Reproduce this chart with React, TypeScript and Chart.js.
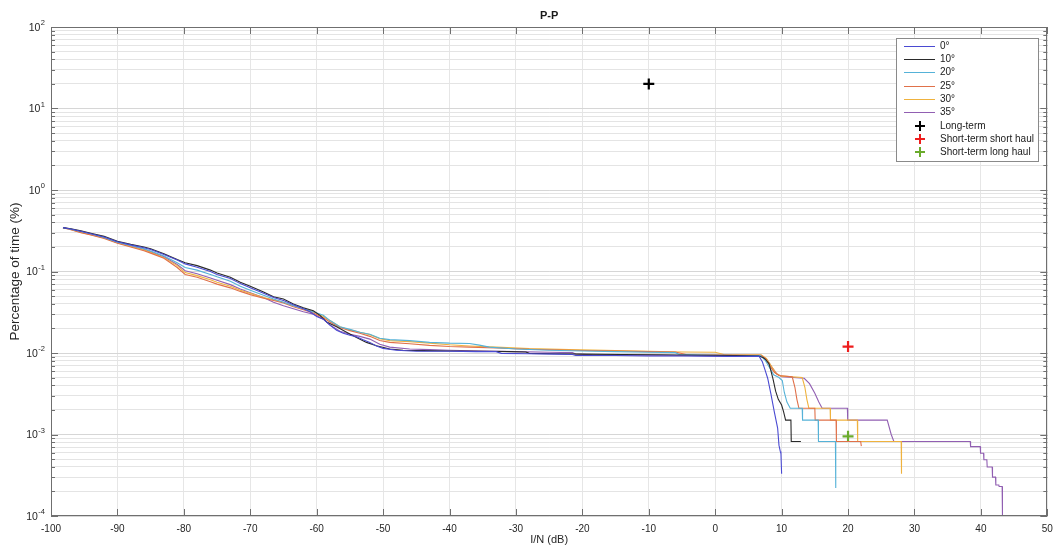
import React, { useEffect, useRef } from 'react';
import { Chart, registerables } from 'chart.js';

Chart.register(...registerables);

const FONT = '"Liberation Sans", Arial, Helvetica, sans-serif';

const chartTitle = 'P-P';
const xAxisTitle = 'I/N (dB)';
const yAxisTitle = 'Percentage of time (%)';

const seriesLabels = ['0°', '10°', '20°', '25°', '30°', '35°'];
const seriesColors = ['#4a4ad2', '#2a2a2a', '#55b2d8', '#e0714a', '#efb23e', '#915fb2'];

// [I/N (dB), percentage of time (%)]
const series0: [number, number][] = [
  [-98.2, 0.345], [-97, 0.333], [-95.5, 0.312], [-94, 0.29], [-92, 0.265], [-90, 0.232], [-88, 0.212],
  [-86, 0.196], [-85, 0.186], [-83, 0.162], [-81, 0.138], [-79.8, 0.124], [-78, 0.113], [-76, 0.1],
  [-75, 0.092], [-73, 0.082], [-71.5, 0.071], [-70, 0.063], [-68, 0.054], [-66.5, 0.048], [-65, 0.044],
  [-63.5, 0.039], [-62, 0.035], [-61, 0.032], [-60, 0.028], [-59, 0.026], [-58, 0.022], [-57, 0.019],
  [-56, 0.0175], [-55, 0.0165], [-54, 0.0158], [-53, 0.0145], [-52, 0.0135], [-51, 0.0122], [-50, 0.0114],
  [-48, 0.0108], [-45, 0.0105], [-40, 0.0105], [-36, 0.0104], [-33, 0.0104], [-32.2, 0.0099], [-28, 0.0098],
  [-24, 0.0097], [-21.5, 0.0096], [-21, 0.0093], [-15, 0.0093], [-10, 0.0092], [-4, 0.0092], [2, 0.0091],
  [6.6, 0.0091], [7.1, 0.0078], [7.5, 0.0062], [7.9, 0.0049], [8.4, 0.0031], [8.9, 0.0019], [9.4, 0.0012],
  [9.6, 0.00074], [9.8, 0.00062], [9.9, 0.00058], [10, 0.00033],
];
const series10: [number, number][] = [
  [-98.2, 0.345], [-97, 0.335], [-95.5, 0.315], [-94, 0.295], [-92, 0.27], [-90, 0.235], [-88, 0.215],
  [-86, 0.2], [-85, 0.19], [-83, 0.165], [-81, 0.14], [-79.8, 0.128], [-78, 0.118], [-76, 0.104],
  [-75, 0.096], [-73, 0.085], [-71.5, 0.074], [-70, 0.066], [-68, 0.056], [-66.5, 0.049], [-65, 0.046],
  [-63.5, 0.04], [-62, 0.036], [-60.5, 0.033], [-59.5, 0.029], [-58.5, 0.024], [-57, 0.021], [-55.5, 0.018],
  [-54, 0.0155], [-52.5, 0.0135], [-51, 0.0123], [-49, 0.0112], [-47, 0.0108], [-44, 0.0107], [-40, 0.0106],
  [-35, 0.0105], [-31, 0.0104], [-28.5, 0.0103], [-28, 0.0099], [-24, 0.0098], [-20, 0.0097], [-14, 0.0096],
  [-8, 0.0095], [-2, 0.0094], [3, 0.0093], [6.5, 0.0092], [7.2, 0.0088], [7.6, 0.0083], [8.1, 0.0074],
  [8.4, 0.006], [8.7, 0.0048], [9.1, 0.0034], [9.5, 0.0027], [10, 0.0023], [10.3, 0.0019], [10.6, 0.0015],
  [11.4, 0.0015], [11.45, 0.00082], [12.9, 0.00082],
];
const series20: [number, number][] = [
  [-98.2, 0.345], [-97, 0.33], [-95.5, 0.31], [-94, 0.29], [-92, 0.262], [-90, 0.228], [-88, 0.208],
  [-86, 0.19], [-85, 0.178], [-83, 0.155], [-81, 0.128], [-79.8, 0.112], [-78, 0.104], [-76, 0.092],
  [-75, 0.086], [-73, 0.076], [-71.5, 0.066], [-70, 0.059], [-68, 0.051], [-66.5, 0.046], [-65, 0.042],
  [-63.5, 0.038], [-62, 0.035], [-60.5, 0.032], [-59, 0.029], [-58, 0.025], [-56.5, 0.021], [-55, 0.0195],
  [-53.5, 0.018], [-52, 0.017], [-50.5, 0.0152], [-49, 0.0146], [-46, 0.0142], [-43, 0.0135], [-40, 0.0132],
  [-37, 0.0131], [-35.5, 0.0125], [-34, 0.0118], [-30, 0.0112], [-25, 0.0108], [-20, 0.0106], [-15, 0.0104],
  [-10, 0.0102], [-6, 0.0101], [-5.4, 0.0096], [0, 0.0094], [5, 0.0093], [6.8, 0.0093], [7.5, 0.0082],
  [8.2, 0.0066], [8.8, 0.0054], [9.6, 0.005], [10.1, 0.0046], [10.4, 0.0033], [10.8, 0.0025], [11.3, 0.0021],
  [13.1, 0.0021], [13.15, 0.0015], [15.5, 0.0015], [15.55, 0.00082], [18.1, 0.00082], [18.15, 0.00022],
];
const series25: [number, number][] = [
  [-98.2, 0.345], [-97, 0.325], [-95.5, 0.3], [-94, 0.28], [-92, 0.255], [-90, 0.222], [-88, 0.2],
  [-86, 0.18], [-85, 0.168], [-83, 0.145], [-81, 0.112], [-79.8, 0.092], [-78, 0.085], [-76, 0.075],
  [-75, 0.07], [-73, 0.063], [-71.5, 0.057], [-70, 0.052], [-68, 0.047], [-66.5, 0.044], [-65, 0.041],
  [-63.5, 0.037], [-62, 0.034], [-60.5, 0.031], [-59, 0.027], [-58, 0.024], [-56.5, 0.0205], [-55, 0.0188],
  [-53.5, 0.0175], [-52, 0.016], [-50.5, 0.0142], [-49, 0.0135], [-46, 0.013], [-43, 0.0124], [-40, 0.012],
  [-37, 0.0118], [-33, 0.0115], [-28, 0.0111], [-22, 0.0108], [-15, 0.0106], [-10, 0.0104], [-6, 0.0103],
  [-4.4, 0.0096], [0, 0.0095], [5, 0.0094], [6.9, 0.0094], [7.6, 0.0085], [8.3, 0.0068], [8.9, 0.0058],
  [9.6, 0.0053], [11.6, 0.0051], [12, 0.0038], [12.3, 0.0027], [12.6, 0.0021], [15, 0.0021], [15.05, 0.0015],
  [18.2, 0.0015], [18.25, 0.00082], [21.9, 0.00082], [22, 0.00072],
];
const series30: [number, number][] = [
  [-98.2, 0.345], [-97, 0.328], [-95.5, 0.302], [-94, 0.282], [-92, 0.258], [-90, 0.225], [-88, 0.203],
  [-86, 0.184], [-85, 0.172], [-83, 0.148], [-81, 0.118], [-79.8, 0.097], [-78, 0.089], [-76, 0.079],
  [-75, 0.074], [-73, 0.066], [-71.5, 0.059], [-70, 0.054], [-68, 0.048], [-66.5, 0.045], [-65, 0.042],
  [-63.5, 0.038], [-62, 0.035], [-60.5, 0.032], [-59, 0.028], [-58, 0.025], [-56.5, 0.021], [-55, 0.0192],
  [-53.5, 0.018], [-52, 0.0168], [-50.5, 0.015], [-49, 0.0142], [-46, 0.0138], [-43, 0.0132], [-40, 0.0126],
  [-37, 0.0122], [-33, 0.0118], [-28, 0.0113], [-22, 0.011], [-15, 0.0107], [-10, 0.0105], [-5, 0.0103],
  [0, 0.0102], [1.3, 0.0096], [5, 0.0095], [6.9, 0.0095], [7.7, 0.0086], [8.5, 0.0068], [9.2, 0.0056],
  [10, 0.0052], [13.1, 0.005], [13.5, 0.0038], [13.8, 0.0027], [14.1, 0.0021], [17.3, 0.0021], [17.35, 0.0015],
  [21.4, 0.0015], [21.45, 0.00082], [28, 0.00082], [28.05, 0.00033],
];
const series35: [number, number][] = [
  [-98.2, 0.345], [-97, 0.33], [-95.5, 0.305], [-94, 0.285], [-92, 0.26], [-90, 0.226], [-88, 0.205],
  [-86, 0.187], [-85, 0.175], [-83, 0.152], [-81, 0.122], [-79.8, 0.102], [-78, 0.094], [-76, 0.083],
  [-75, 0.078], [-73, 0.069], [-71.5, 0.061], [-70, 0.055], [-68, 0.048], [-66.5, 0.042], [-65, 0.038],
  [-63.5, 0.035], [-62, 0.032], [-60.5, 0.03], [-59, 0.026], [-58, 0.022], [-56.5, 0.0185], [-55, 0.017],
  [-53.5, 0.016], [-52, 0.0148], [-50.5, 0.0128], [-49, 0.0118], [-46, 0.0112], [-43, 0.011], [-40, 0.0108],
  [-35, 0.0106], [-30, 0.0104], [-25, 0.0102], [-21.5, 0.0101], [-21, 0.0097], [-18.5, 0.0095], [-12, 0.0094],
  [-5, 0.0093], [0, 0.0092], [5, 0.0092], [7, 0.0092], [7.8, 0.0083], [8.6, 0.0066], [9.3, 0.0055],
  [10, 0.0051], [13.4, 0.0049], [14.2, 0.0042], [15, 0.0032], [15.6, 0.0025], [16.1, 0.0021], [19.9, 0.0021],
  [19.95, 0.0015], [25.9, 0.0015], [26.5, 0.001], [26.9, 0.00082], [38.4, 0.00082], [38.45, 0.00071],
  [39.9, 0.00071], [39.95, 0.00059], [40.4, 0.00059], [40.45, 0.00049], [40.9, 0.00049], [40.95, 0.0004],
  [41.7, 0.0004], [41.75, 0.0003], [42.2, 0.0003], [42.25, 0.00024], [42.7, 0.00024], [42.75, 0.00023],
  [43.2, 0.00023], [43.25, 0.0001],
];
const seriesData = [series0, series10, series20, series25, series30, series35];

const markerLabels = ['Long-term', 'Short-term short haul', 'Short-term long haul'];
const markerX = [-10, 20, 20];
const markerY = [20, 0.012, 0.00095];
const markerColors = ['#000000', '#ee1d1d', '#6aab2c'];

const xMin = -100;
const xMax = 50;
const xStep = 10;
const yDecades = [-4, -3, -2, -1, 0, 1, 2];
const yMantissas = [1, 2, 3, 4, 5, 6, 7, 8, 9];

const yGridValues: number[] = [];
yDecades.forEach((e) => {
  yMantissas.forEach((m) => {
    if (e === 2 && m > 1) return;
    yGridValues.push(Number((m * Math.pow(10, e)).toPrecision(6)));
  });
});
const isDecade = (v: number) => Math.abs(Math.log10(v) - Math.round(Math.log10(v))) < 1e-9;

const overlayPlugin = {
  id: 'overlay',
  afterDraw(chart: any) {
    const { ctx, chartArea: a, scales } = chart;
    const xs = scales.x;
    const ys = scales.y;
    ctx.save();

    // inward ticks (box style)
    ctx.strokeStyle = '#6f6f6f';
    ctx.lineWidth = 1;
    ctx.beginPath();
    xs.ticks.forEach((t: any) => {
      const px = Math.round(xs.getPixelForValue(t.value)) + 0.5;
      ctx.moveTo(px, a.bottom);
      ctx.lineTo(px, a.bottom - 7);
      ctx.moveTo(px, a.top);
      ctx.lineTo(px, a.top + 7);
    });
    yGridValues.forEach((v) => {
      const len = isDecade(v) ? 7 : 4;
      const py = Math.round(ys.getPixelForValue(v)) + 0.5;
      ctx.moveTo(a.left, py);
      ctx.lineTo(a.left + len, py);
      ctx.moveTo(a.right, py);
      ctx.lineTo(a.right - len, py);
    });
    ctx.stroke();

    // axes box
    ctx.strokeStyle = '#6f6f6f';
    ctx.strokeRect(Math.round(a.left) + 0.5, Math.round(a.top) + 0.5, Math.round(a.right - a.left) - 1, Math.round(a.bottom - a.top) - 1);

    // y tick labels with superscript exponents
    ctx.fillStyle = '#262626';
    yDecades.forEach((e) => {
      const py = ys.getPixelForValue(Math.pow(10, e));
      const exp = e < 0 ? '-' + Math.abs(e) : String(e);
      ctx.font = `7.5px ${FONT}`;
      ctx.textAlign = 'right';
      ctx.textBaseline = 'middle';
      const ew = ctx.measureText(exp).width;
      const right = a.left - 6;
      ctx.fillText(exp, right, py - 4);
      ctx.font = `10.5px ${FONT}`;
      ctx.fillText('10', right - ew - 0.5, py + 1);
    });

    // titles
    ctx.fillStyle = '#1a1a1a';
    ctx.font = `bold 11px ${FONT}`;
    ctx.textAlign = 'center';
    ctx.textBaseline = 'middle';
    ctx.fillText(chartTitle, (a.left + a.right) / 2, 16);

    ctx.fillStyle = '#262626';
    ctx.font = `11px ${FONT}`;
    ctx.fillText(xAxisTitle, (a.left + a.right) / 2, 540);
    ctx.save();
    ctx.translate(15, (a.top + a.bottom) / 2);
    ctx.rotate(-Math.PI / 2);
    ctx.font = `13.5px ${FONT}`;
    ctx.fillText(yAxisTitle, 0, 0);
    ctx.restore();

    // legend
    const lx = 896;
    const ly = 38;
    const lw = 142;
    const lh = 123;
    ctx.fillStyle = '#ffffff';
    ctx.fillRect(lx, ly, lw, lh);
    ctx.strokeStyle = '#8a8a8a';
    ctx.lineWidth = 1;
    ctx.strokeRect(lx + 0.5, ly + 0.5, lw, lh);
    const rowY0 = 45.8;
    const rowDy = 13.3;
    ctx.font = `10px ${FONT}`;
    ctx.textAlign = 'left';
    ctx.textBaseline = 'middle';
    seriesLabels.forEach((label, i) => {
      const y = Math.round(rowY0 + i * rowDy) + 0.5;
      ctx.strokeStyle = seriesColors[i];
      ctx.lineWidth = 1;
      ctx.beginPath();
      ctx.moveTo(904, y);
      ctx.lineTo(935, y);
      ctx.stroke();
      ctx.fillStyle = '#1a1a1a';
      ctx.fillText(label, 940, y);
    });
    markerLabels.forEach((label, j) => {
      const i = seriesLabels.length + j;
      const y = Math.round(rowY0 + i * rowDy);
      ctx.strokeStyle = markerColors[j];
      ctx.lineWidth = 2;
      ctx.beginPath();
      ctx.moveTo(920, y - 5);
      ctx.lineTo(920, y + 5);
      ctx.moveTo(915, y);
      ctx.lineTo(925, y);
      ctx.stroke();
      ctx.fillStyle = '#1a1a1a';
      ctx.fillText(label, 940, y + 0.5);
    });

    ctx.restore();
  },
};

export default function App() {
  const canvasRef = useRef<HTMLCanvasElement | null>(null);

  useEffect(() => {
    if (!canvasRef.current) return;
    const lineSets = seriesData.map((s, i) => ({
      label: seriesLabels[i],
      data: s.map(([x, y]) => ({ x, y })),
      borderColor: seriesColors[i],
      backgroundColor: seriesColors[i],
      borderWidth: 1.1,
      pointRadius: 0,
      pointHoverRadius: 0,
      tension: 0,
      fill: false,
    }));
    const markerSets = markerLabels.map((label, j) => ({
      label,
      data: [{ x: markerX[j], y: markerY[j] }],
      showLine: false,
      borderColor: markerColors[j],
      backgroundColor: markerColors[j],
      pointStyle: 'cross',
      pointRadius: 5.5,
      pointBorderWidth: 2.2,
      pointHoverRadius: 5.5,
    }));

    const chart = new Chart(canvasRef.current, {
      type: 'line',
      data: { datasets: [...lineSets, ...markerSets] as any },
      plugins: [overlayPlugin],
      options: {
        responsive: false,
        animation: false,
        events: [],
        layout: { padding: { top: 27, right: 6, left: 0, bottom: 0 } },
        plugins: {
          legend: { display: false },
          title: { display: false },
          tooltip: { enabled: false },
        },
        scales: {
          x: {
            type: 'linear',
            min: xMin,
            max: xMax,
            ticks: {
              stepSize: xStep,
              autoSkip: false,
              maxRotation: 0,
              padding: 0,
              color: '#262626',
              font: { family: FONT, size: 10 },
            },
            grid: { color: '#e6e6e6', drawTicks: true, tickLength: 7, tickColor: 'rgba(0,0,0,0)', lineWidth: 1 },
            border: { display: false },
            afterFit: (scale: any) => {
              scale.height = 31;
              scale.paddingLeft = 0;
              scale.paddingRight = 0;
            },
          },
          y: {
            type: 'logarithmic',
            min: 1e-4,
            max: 100,
            ticks: { display: false, autoSkip: false },
            afterBuildTicks: (scale: any) => {
              scale.ticks = yGridValues.map((v) => ({ value: v, major: isDecade(v) }));
            },
            grid: {
              drawTicks: false,
              lineWidth: 1,
              color: (c: any) => (c.tick && isDecade(c.tick.value) ? '#d6d6d6' : '#e4e4e4'),
            },
            border: { display: false },
            afterFit: (scale: any) => {
              scale.width = 51;
            },
          },
        },
      } as any,
    });
    return () => chart.destroy();
  }, []);

  return (
    <div style={{ position: 'fixed', left: 0, top: 0, width: 1055, height: 547, background: '#fff' }}>
      <canvas ref={canvasRef} width={1055} height={547} style={{ display: 'block' }} />
    </div>
  );
}
